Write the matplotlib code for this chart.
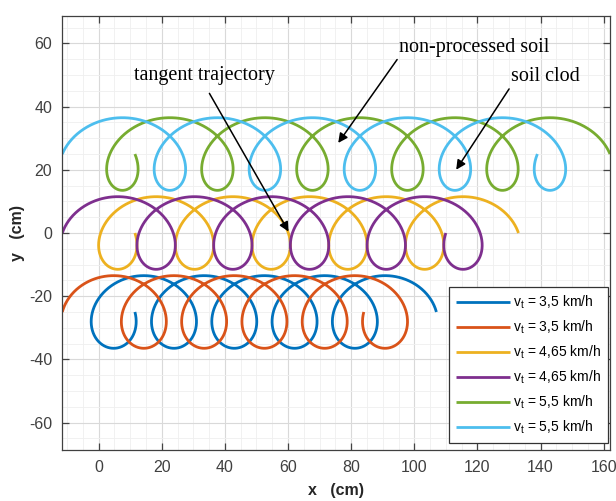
import numpy as np
import matplotlib
matplotlib.use("Agg")
import matplotlib.pyplot as plt
from matplotlib.ticker import MultipleLocator

# tiller blade tip trajectories (trochoids), two blades per speed
speeds = ["3,5", "3,5", "4,65", "4,65", "5,5", "5,5"]
pitch = [19.1, 19.1, 24.3, 24.3, 30.1, 30.1]      # advance per rotor revolution (cm)
y_center = [-25, -25, 0, 0, 25, 25]                # rotor axis height (cm)
blade_phase = [0, 0.5, 0, 0.5, 0, 0.5]             # start angle, in revolutions
radius = 11.5                                      # blade radius (cm)
revolutions = 5
colors = ["#0072BD", "#D95319", "#EDB120", "#7E2F8E", "#77AC30", "#4DBEEE"]

plt.rcParams["font.family"] = ["Liberation Sans", "DejaVu Sans"]
plt.rcParams["axes.unicode_minus"] = False
fig = plt.figure(figsize=(6.16, 5.01), dpi=100)
ax = fig.add_axes([62/616, 51/501, 548/616, 434/501])

s = np.linspace(0, revolutions, 3000)
for i in range(len(speeds)):
    ang = -2*np.pi*(s + blade_phase[i])
    x = pitch[i]*s + radius*np.cos(ang)
    y = y_center[i] + radius*np.sin(ang)
    ax.plot(x, y, color=colors[i], lw=2.0, solid_capstyle="butt",
            label=r"v$_\mathregular{t}$ = " + speeds[i] + " km/h")

ax.set_xlim(-radius - 0.1, revolutions*pitch[4] + radius)
ax.set_ylim(-68.7, 68.7)
ax.xaxis.set_major_locator(MultipleLocator(20))
ax.yaxis.set_major_locator(MultipleLocator(20))
ax.xaxis.set_minor_locator(MultipleLocator(5))
ax.yaxis.set_minor_locator(MultipleLocator(5))
ax.grid(True, which="major", color="#d9d9d9", lw=0.8)
ax.grid(True, which="minor", color="#efefef", lw=0.6)
ax.set_axisbelow(True)
ax.tick_params(which="major", direction="in", length=5, width=0.9, color="#444444",
               top=True, right=True, labelsize=11.5, labelcolor="#404040", pad=7)
ax.tick_params(which="minor", length=0, top=True, right=True)
for sp in ax.spines.values():
    sp.set_color("#404040")
    sp.set_linewidth(0.9)

ax.set_xlabel("x   (cm)", fontsize=11.5, fontweight="bold", color="#262626", labelpad=6)
ax.set_ylabel("y   (cm)", fontsize=11.5, fontweight="bold", color="#262626", labelpad=3)

serif = ["Liberation Serif", "DejaVu Serif"]
arrow = dict(arrowstyle="-|>", color="black", lw=1.1, mutation_scale=14)
ax.annotate("non-processed soil", xy=(75.4, 27.8), xytext=(119, 58.8),
            fontsize=14.5, family=serif, ha="center", va="center",
            arrowprops=dict(arrow, shrinkA=0, relpos=(0.0, 0.0)))
ax.annotate("soil clod", xy=(112.8, 19.3), xytext=(141.5, 49.5),
            fontsize=14.5, family=serif, ha="center", va="center",
            arrowprops=dict(arrow, shrinkA=0, relpos=(0.0, 0.0)))
ax.annotate("tangent trajectory", xy=(60.6, -0.3), xytext=(33.5, 50),
            fontsize=14.5, family=serif, ha="center", va="center",
            arrowprops=dict(arrow, shrinkA=5, relpos=(0.5, 0.0)))

leg = ax.legend(loc="lower right", fontsize=10, handlelength=3.9, handletextpad=0.2,
                labelspacing=0.55, borderpad=0.5, borderaxespad=0, fancybox=False,
                framealpha=1, edgecolor="#333333", bbox_to_anchor=(0.996, 0.016))
leg.get_frame().set_linewidth(0.9)

fig.savefig("out.png", dpi=100)
